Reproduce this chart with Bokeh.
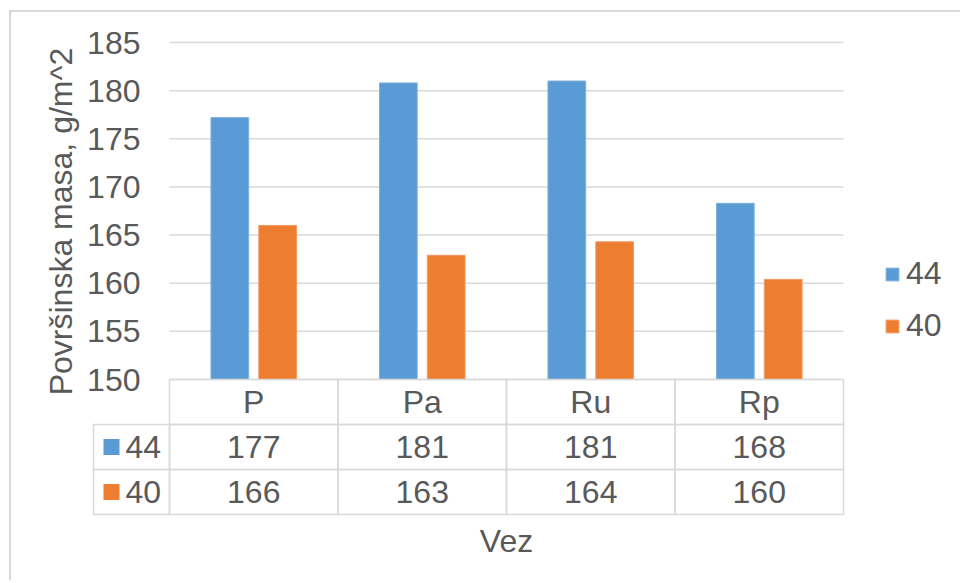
import math
from bokeh.plotting import figure
from bokeh.models import Range1d, Legend, LegendItem, FixedTicker, ColumnDataSource, Label
from bokeh.transform import dodge
from bokeh.core.properties import value
from bokeh.embed import file_html
from bokeh.resources import INLINE

# ---- data ----
categories = ["P", "Pa", "Ru", "Rp"]
series_names = ["44", "40"]
values_44 = [177.2, 180.8, 181.0, 168.3]
values_40 = [166.0, 162.9, 164.3, 160.4]
y_ticks = [150, 155, 160, 165, 170, 175, 180, 185]
y_title = "Površinska masa, g/m^2"
x_title = "Vez"

# ---- styles / layout (pixels) ----
BLUE = "#5B9BD5"
ORANGE = "#ED7D31"
TXT = "#595959"
GRID = "#d9d9d9"
FONT = "Liberation Sans"
FS = "32px"

W, H = 960, 580
F_L, F_T = 12, 12                 # frame left / top (px)
PLOT_L, PLOT_R = 169, 843         # bar plot area in px
PLOT_T, PLOT_B = 42, 379
CW = (PLOT_R - PLOT_L) / len(categories)        # px per category
PPU = (PLOT_B - PLOT_T) / (y_ticks[-1] - y_ticks[0])   # px per value unit
ROW = 45
TABLE_B = PLOT_B + 3 * ROW
LBL = (PLOT_L - 93) / CW          # label column width (category units)

x0 = (F_L - PLOT_L) / CW
x1 = (W - PLOT_L) / CW
y_hi = y_ticks[-1] + (PLOT_T - F_T) / PPU
y_lo = y_ticks[0] - (H - PLOT_B) / PPU
t_hi = (TABLE_B - F_T) / ROW
t_lo = -(H - TABLE_B) / ROW

p = figure(width=W, height=H, x_range=Range1d(x0, x1), y_range=Range1d(y_lo, y_hi),
           output_backend="svg", toolbar_location=None,
           min_border_left=F_L, min_border_right=0, min_border_top=F_T,
           min_border_bottom=0,
           styles={"box-shadow": "inset 9px 10px 0 0 #ffffff, inset 11px 12px 0 0 #d9d9d9"})
p.extra_y_ranges = {"table": Range1d(t_lo, t_hi)}
p.background_fill_color = None
p.border_fill_color = None
p.outline_line_color = None
p.xaxis.visible = False
p.grid.visible = False

idx = list(range(len(categories)))
xc = [i + 0.5 for i in idx]
ncat = len(categories)

# gridlines of the value axis
p.segment(x0=[0] * len(y_ticks), x1=[ncat] * len(y_ticks), y0=y_ticks, y1=y_ticks,
          line_color=GRID, line_width=1.5)

src = ColumnDataSource(dict(xc=xc, cat=categories, v44=values_44, v40=values_40))
r44 = p.vbar(x=dodge("xc", -0.142), top="v44", bottom=y_ticks[0], width=0.224,
             source=src, fill_color=BLUE, line_color="#7fb1de", line_width=1)
r40 = p.vbar(x=dodge("xc", 0.142), top="v40", bottom=y_ticks[0], width=0.224,
             source=src, fill_color=ORANGE, line_color="#f29a62", line_width=1)

yax = p.yaxis[0]
yax.ticker = FixedTicker(ticks=y_ticks)
yax.axis_line_color = None
yax.major_tick_line_color = None
yax.minor_tick_line_color = None
yax.major_tick_out = 0
yax.major_tick_in = 0
yax.major_label_standoff = -(140 - F_L)
yax.major_label_text_font = FONT
yax.major_label_text_font_size = FS
yax.major_label_text_color = TXT

p.add_layout(Label(x=(60 - PLOT_L) / CW, y=y_ticks[-1] - (221 - PLOT_T) / PPU,
                   text=y_title, angle=math.pi / 2, text_align="center",
                   text_baseline="alphabetic", text_font=FONT, text_font_size=FS,
                   text_color=TXT))

legend = Legend(items=[LegendItem(label=series_names[0], renderers=[r44]),
                       LegendItem(label=series_names[1], renderers=[r40])],
                location=(884 - F_L, H - 344))
legend.border_line_color = None
legend.background_fill_color = None
legend.padding = 0
legend.margin = 0
legend.glyph_width = 16
legend.glyph_height = 16
legend.label_height = 36
legend.label_standoff = 6
legend.spacing = 15
legend.label_text_font = FONT
legend.label_text_font_size = FS
legend.label_text_color = TXT
legend.label_text_baseline = "middle"
p.add_layout(legend, "center")

# ---- data table under the plot ----
TR = "table"
p.rect(x=xc, y=[2.5] * ncat, width=1, height=1, fill_color=None,
       line_color=GRID, line_width=1.5, y_range_name=TR)
p.text(x=xc, y=[2.5] * ncat, text=categories, text_align="center",
       text_baseline="middle", text_font=value(FONT), text_font_size=FS,
       text_color=TXT, y_range_name=TR)
rows = [(1.5, values_44, BLUE, series_names[0]), (0.5, values_40, ORANGE, series_names[1])]
for yr, vals, col, name in rows:
    p.rect(x=xc, y=[yr] * ncat, width=1, height=1, fill_color=None,
           line_color=GRID, line_width=1.5, y_range_name=TR)
    p.rect(x=[-LBL / 2], y=[yr], width=LBL, height=1, fill_color=None,
           line_color=GRID, line_width=1.5, y_range_name=TR)
    p.text(x=xc, y=[yr] * ncat, text=[f"{v:.0f}" for v in vals],
           text_align="center", text_baseline="middle", text_font=value(FONT),
           text_font_size=FS, text_color=TXT, y_range_name=TR)
    p.scatter(x=[(111 - PLOT_L) / CW], y=[yr], marker="square", size=16,
              fill_color=col, line_color=None, y_range_name=TR)
    p.text(x=[(125 - PLOT_L) / CW], y=[yr], text=[name], text_align="left",
           text_baseline="middle", text_font=value(FONT), text_font_size=FS,
           text_color=TXT, y_range_name=TR)

p.add_layout(Label(x=ncat / 2, y=-(540 - TABLE_B) / ROW, y_range_name=TR,
                   text=x_title, text_align="center", text_baseline="middle",
                   text_font=FONT, text_font_size=FS, text_color=TXT))

open("out.html", "w").write(file_html(p, INLINE))
